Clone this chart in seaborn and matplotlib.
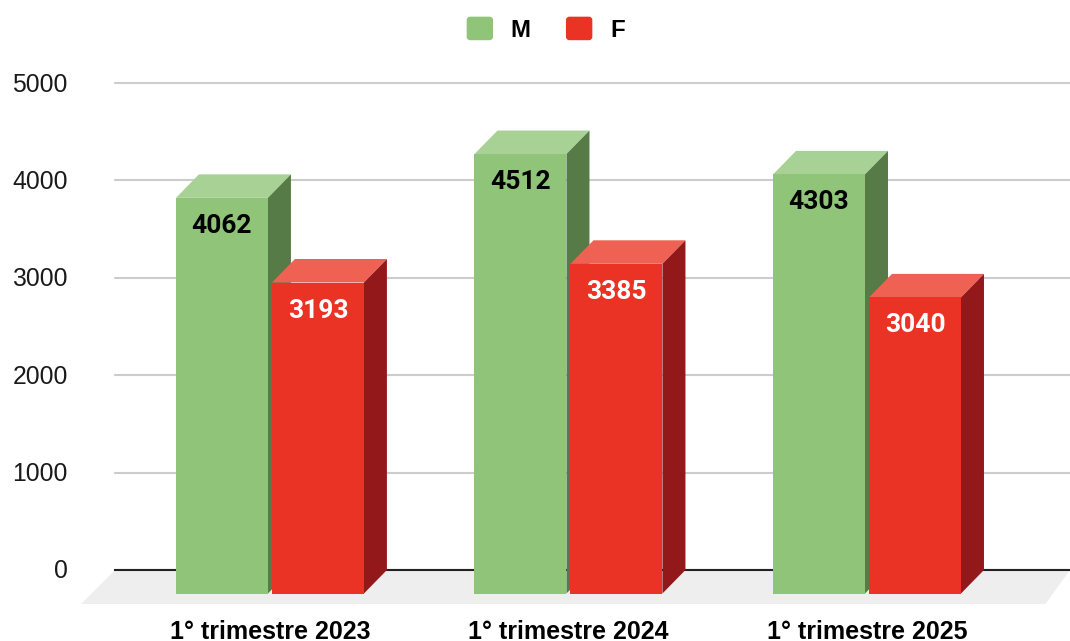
import pandas as pd
import matplotlib.pyplot as plt
import seaborn as sns
from matplotlib.legend_handler import HandlerPatch
from matplotlib.patches import FancyBboxPatch, Polygon
from matplotlib.transforms import Affine2D

# Values
periods = ['1° trimestre 2023', '1° trimestre 2024', '1° trimestre 2025']
male = [4062, 4512, 4303]
female = [3193, 3385, 3040]
y_ticks = [0, 1000, 2000, 3000, 4000, 5000]

colors = {'M': '#8fc479', 'F': '#ea3324'}
top_colors = {'M': '#a8d195', 'F': '#ee6153'}
side_colors = {'M': '#567b46', 'F': '#93181a'}
label_colors = {'M': 'black', 'F': 'white'}

df = pd.DataFrame({
    'period': periods * 2,
    'sex': ['M'] * 3 + ['F'] * 3,
    'value': male + female,
})

sns.set_style('white')
plt.rcParams['font.family'] = ['Liberation Sans', 'DejaVu Sans']
plt.rcParams['text.color'] = 'black'

W, H = 1070, 641
fig = plt.figure(figsize=(W / 100, H / 100), dpi=100)
ax = fig.add_axes([115 / W, 1 - 570 / H, (W - 115) / W, 487 / H])

sns.barplot(data=df, x='period', y='value', hue='sex', palette=colors, saturation=1,
            width=0.643, gap=0.0417, linewidth=0, ax=ax, legend=False)

ax.set_xlim(-0.519, 2.68)
ax.set_ylim(0, 5000)
ax.set_xlabel('')
ax.set_ylabel('')

# pixels -> data units for the fake 3D depth
px_x = 3.199 / (W - 115)
px_y = 5000 / 487
dx = 23 * px_x
dy = 23.5 * px_y

# Floor under the bars
floor = Polygon([(-0.519, 0), (2.68, 0), (2.68 - 24.5 * px_x, -34 * px_y), (-0.519 - 34 * px_x, -34 * px_y)],
                closed=True, facecolor='#eeeeee', edgecolor='none', zorder=1, clip_on=False)
ax.add_patch(floor)

# Turn the flat bars into boxes
for container, sex, z in zip(ax.containers, ['M', 'F'], [2, 3]):
    for bar in container:
        x0 = bar.get_x()
        x1 = x0 + bar.get_width()
        h = bar.get_height()
        bar.set_y(-dy)
        bar.set_clip_on(False)
        bar.set_zorder(z + 0.2)
        ax.add_patch(Polygon([(x0, h - dy), (x1, h - dy), (x1 + dx, h), (x0 + dx, h)],
                             facecolor=top_colors[sex], edgecolor='none', zorder=z + 0.1, clip_on=False))
        ax.add_patch(Polygon([(x1, -dy), (x1 + dx, 0), (x1 + dx, h), (x1, h - dy)],
                             facecolor=side_colors[sex], edgecolor='none', zorder=z + 0.1, clip_on=False))
        ax.text((x0 + x1) / 2, h - dy - 28 * px_y, str(int(h)), ha='center', va='center',
                color=label_colors[sex], fontsize=19, fontweight='bold', family='Roboto', zorder=5)

ax.set_axisbelow(True)
ax.set_yticks(y_ticks)
ax.grid(axis='y', color='#cccccc', linewidth=1.5)
ax.grid(axis='x', visible=False)
for line in ax.get_ygridlines():
    line.set_clip_on(False)
sns.despine(ax=ax, left=True)
ax.spines['bottom'].set_color('#222222')
ax.spines['bottom'].set_linewidth(1.5)
ax.spines['bottom'].set_zorder(1.5)
ax.tick_params(axis='y', length=0, pad=34, labelsize=17.8, labelcolor='#1a1a1a')
ax.tick_params(axis='x', length=0, pad=35.8, labelsize=18, labelcolor='black')
for lab in ax.get_xticklabels():
    lab.set_fontweight('bold')
for lab in ax.get_yticklabels():
    lab.set_transform(lab.get_transform() + Affine2D().translate(0, 1))


# Rounded legend swatches
def rounded_swatch(legend, orig_handle, xdescent, ydescent, width, height, fontsize):
    return FancyBboxPatch((-xdescent + 1, -ydescent + 1), width - 2, height - 2,
                          boxstyle='round,pad=1,rounding_size=2', mutation_aspect=1)


handles = [plt.Rectangle((0, 0), 1, 1, color=colors[s]) for s in ['M', 'F']]
leg = fig.legend(handles, ['M', 'F'], ncol=2, frameon=False, loc='center',
                 bbox_to_anchor=(546 / W, 1 - 29.5 / H),
                 handlelength=1.04, handleheight=1.04, handletextpad=0.76, columnspacing=1.5,
                 handler_map={plt.Rectangle: HandlerPatch(patch_func=rounded_swatch)},
                 prop={'weight': 'bold', 'size': 17.3})

fig.savefig('out.png', dpi=100)
